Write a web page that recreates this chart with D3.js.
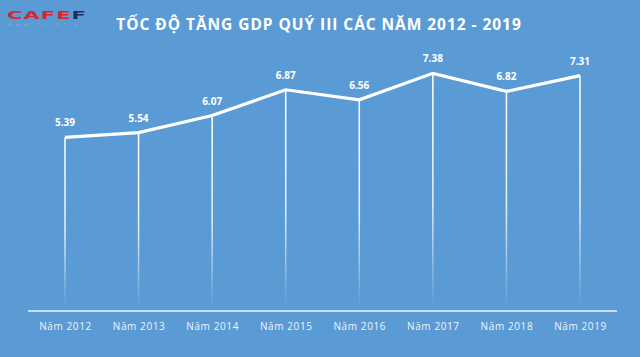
<!DOCTYPE html>
<html><head><meta charset="utf-8">
<script src="https://cdn.jsdelivr.net/npm/d3@7"></script>
<style>html,body{margin:0;padding:0;background:#5b9bd5;}svg{display:block;}</style>
</head><body>
<script>
const years = ["Năm 2012","Năm 2013","Năm 2014","Năm 2015","Năm 2016","Năm 2017","Năm 2018","Năm 2019"];
const growth = [5.39, 5.54, 6.07, 6.87, 6.56, 7.38, 6.82, 7.31];
const labels = ["5.39","5.54","6.07","6.87","6.56","7.38","6.82","7.31"];
const title = "TỐC ĐỘ TĂNG GDP QUÝ III CÁC NĂM 2012 - 2019";

const W = 640, H = 357;
const svg = d3.select("body").append("svg").attr("width", W).attr("height", H);
svg.append("rect").attr("width", W).attr("height", H).attr("fill", "#5b9bd5");

const defs = svg.append("defs");
const g1 = defs.append("linearGradient").attr("id","fade").attr("x1",0).attr("y1",0).attr("x2",0).attr("y2",1);
g1.append("stop").attr("offset","0%").attr("stop-color","#fff").attr("stop-opacity",1);
g1.append("stop").attr("offset","55%").attr("stop-color","#fff").attr("stop-opacity",0.85);
g1.append("stop").attr("offset","100%").attr("stop-color","#fff").attr("stop-opacity",0);

const x = d3.scalePoint().domain(years).range([65, 580]);
const y = d3.scaleLinear().domain([0, 8]).range([311, 53.4]);

// drop lines
svg.selectAll(".drop").data(growth).join("rect")
  .attr("x", (d,i) => x(years[i]) - 0.75)
  .attr("y", d => y(d))
  .attr("width", 1.5)
  .attr("height", d => y(0) - 4 - y(d))
  .attr("fill", "url(#fade)");

// axis
const axis = svg.append("g").attr("transform", `translate(0,${y(0)})`)
  .call(d3.axisBottom(x).tickSize(0).tickPadding(10));
axis.select(".domain").attr("d", "M28,0H617").attr("stroke", "#ffffff").attr("stroke-width", 1.3).attr("stroke-opacity",0.9);
axis.selectAll("text").attr("fill", "#eef4fb").attr("font-family", "'Open Sans', sans-serif")
  .attr("font-size", 10).attr("letter-spacing", 0.6).attr("dy", "0.9em");

// line
const line = d3.line().x((d,i) => x(years[i])).y(d => y(d));
svg.append("path").datum(growth).attr("d", line).attr("fill", "none")
  .attr("stroke", "#fff").attr("stroke-width", 3.2).attr("stroke-linejoin", "miter");

// value labels
svg.selectAll(".lbl").data(growth).join("text")
  .attr("x", (d,i) => x(years[i]))
  .attr("y", d => y(d) - 11)
  .attr("text-anchor", "middle")
  .attr("fill", "#fff").attr("font-family", "'Open Sans', sans-serif")
  .attr("font-weight", "bold").attr("font-size", 10)
  .text((d,i) => labels[i]);

// title
svg.append("text").attr("x", 319).attr("y", 30).attr("text-anchor", "middle")
  .attr("fill", "#fff").attr("font-family", "'Open Sans', sans-serif")
  .attr("font-weight", "bold").attr("font-size", 15.5).attr("letter-spacing", 0.95)
  .text(title);

// logo
const logo = svg.append("g");
logo.append("text").attr("x", 7).attr("y", 19).attr("font-family", "'DejaVu Sans', sans-serif")
  .attr("font-weight", "bold").attr("font-size", 11).attr("letter-spacing", 0.5)
  .attr("textLength", 80).attr("lengthAdjust", "spacingAndGlyphs")
  .call(t => { t.append("tspan").attr("fill", "#d7262e").text("CAFE"); t.append("tspan").attr("fill", "#1f2f5e").text("F"); });
logo.append("text").attr("x", 8).attr("y", 26).attr("font-family", "'DejaVu Sans', sans-serif")
  .attr("font-size", 4.5).attr("fill", "#8fa7c4").attr("textLength", 76).attr("lengthAdjust","spacing")
  .text("www.cafef.vn");
</script>
</body></html>
